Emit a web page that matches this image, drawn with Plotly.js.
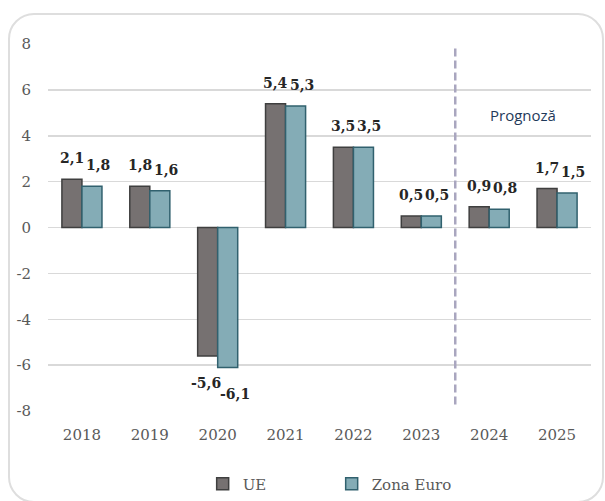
<!DOCTYPE html>
<html>
<head>
<meta charset="utf-8">
<script src="https://cdn.plot.ly/plotly-3.0.1.min.js"></script>
<style>
html,body{margin:0;padding:0;background:#fff;}
#frame{position:absolute;left:8px;top:13px;width:596px;height:490px;border:2px solid #dedede;border-radius:26px;box-sizing:border-box;}
#chart{position:absolute;left:0;top:0;width:605px;height:501px;}
</style>
</head>
<body>
<div id="frame"></div>
<div id="chart"></div>
<script>
const years = ['2018','2019','2020','2021','2022','2023','2024','2025'];
const ue = [2.1, 1.8, -5.6, 5.4, 3.5, 0.5, 0.9, 1.7];
const zonaEuro = [1.8, 1.6, -6.1, 5.3, 3.5, 0.5, 0.8, 1.5];
const seriesNames = ['UE', 'Zona Euro'];
const yTicks = [-8, -6, -4, -2, 0, 2, 4, 6, 8];
const forecastLabel = 'Prognoză';

const fmt = v => v.toFixed(1).replace('.', ',');
const labelFont = {family: 'DejaVu Serif', size: 14, color: '#262626', weight: 'bold'};

const traces = [
  {type: 'bar', name: seriesNames[0], x: years, y: ue,
   marker: {color: '#767171', line: {color: '#3f3f3f', width: 1.5}}, hoverinfo: 'x+y'},
  {type: 'bar', name: seriesNames[1], x: years, y: zonaEuro,
   marker: {color: '#84acb6', line: {color: '#31616e', width: 1.5}}, hoverinfo: 'x+y'}
];

// data labels placed through the axes (category index), offset per series
const labelAnns = [];
[[ue, -10, 0, -2], [zonaEuro, 10, 6, 7]].forEach(([vals, off, xsPos, xsNeg]) => {
  vals.forEach((v, i) => {
    labelAnns.push({
      xref: 'x', yref: 'y', x: i, y: v, text: fmt(v), showarrow: false,
      xshift: off + (v >= 0 ? xsPos : xsNeg), yshift: v >= 0 ? 11 : -17,
      yanchor: v >= 0 ? 'bottom' : 'top', font: labelFont
    });
  });
});

const layout = {
  width: 605, height: 501,
  margin: {l: 48, r: 14, t: 44, b: 90},
  paper_bgcolor: 'rgba(0,0,0,0)', plot_bgcolor: 'rgba(0,0,0,0)',
  barmode: 'group', bargap: 0.41, bargroupgap: 0,
  font: {family: 'DejaVu Serif', color: '#595959', size: 15},
  xaxis: {type: 'category', range: [-0.5, years.length - 0.5], showgrid: false, showline: false,
          zeroline: false, ticks: '',
          tickfont: {family: 'DejaVu Serif', size: 15, color: '#595959'}, ticklabelstandoff: 13,
          automargin: false},
  yaxis: {range: [-8, 8], tickvals: yTicks, ticktext: yTicks.map(String), showgrid: true,
          gridcolor: '#d9d9d9', gridwidth: 1.5, zeroline: true, zerolinecolor: '#d9d9d9', zerolinewidth: 1.5,
          showline: false, ticks: '', tickfont: {family: 'DejaVu Serif', size: 15, color: '#595959'},
          ticklabelstandoff: 16, automargin: false},
  showlegend: true,
  legend: {orientation: 'h', x: 0.335, xanchor: 'left', xref: 'container',
           y: 0.034, yanchor: 'middle', yref: 'container',
           font: {family: 'DejaVu Serif', size: 15, color: '#595959'},
           entrywidth: 84, entrywidthmode: 'pixels', itemwidth: 30,
           traceorder: 'normal', itemclick: false},
  shapes: [{type: 'line', xref: 'x', yref: 'y', x0: 5.5, x1: 5.5, y0: 7.8, y1: -7.8,
            line: {color: '#a9a6bf', width: 2.5, dash: '8px,4px'}}],
  annotations: labelAnns.concat([{xref: 'x', yref: 'y', x: 6.5, y: 4.9, text: forecastLabel, showarrow: false,
                 font: {family: 'Open Sans', size: 15, color: '#1f3a5a'}}])
};

Plotly.newPlot('chart', traces, layout, {displayModeBar: false, staticPlot: true});
</script>
</body>
</html>
